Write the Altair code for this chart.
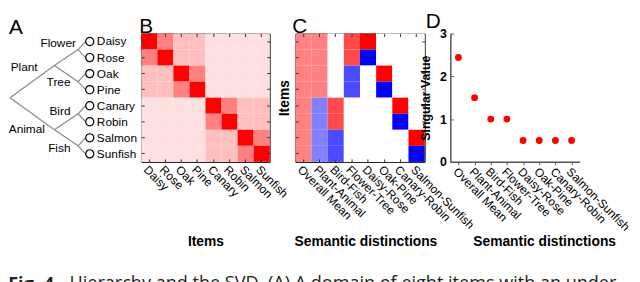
import altair as alt
import pandas as pd

# ---------------- data ----------------
items = ["Daisy", "Rose", "Oak", "Pine", "Canary", "Robin", "Salmon", "Sunfish"]
distinctions = ["Overall Mean", "Plant-Animal", "Bird-Fish", "Flower-Tree",
                "Daisy-Rose", "Oak-Pine", "Canary-Robin", "Salmon-Sunfish"]

# Panel A: hierarchy (depth level and row of every node)
node_names = ["root", "Plant", "Animal", "Flower", "Tree", "Bird", "Fish"] + items
node_depth = [0, 1, 1, 2, 2, 2, 2, 3, 3, 3, 3, 3, 3, 3, 3]
node_row = [3.5, 1.5, 5.5, 0.5, 2.5, 4.5, 6.5, 0, 1, 2, 3, 4, 5, 6, 7]
edge_parent = ["root", "root", "Plant", "Plant", "Animal", "Animal",
               "Flower", "Flower", "Tree", "Tree", "Bird", "Bird", "Fish", "Fish"]
edge_child = ["Plant", "Animal", "Flower", "Tree", "Bird", "Fish",
              "Daisy", "Rose", "Oak", "Pine", "Canary", "Robin", "Salmon", "Sunfish"]

# Panel B: item similarity matrix
similarity = [
    [1.00, 0.50, 0.25, 0.25, 0.12, 0.12, 0.12, 0.12],
    [0.50, 1.00, 0.25, 0.25, 0.12, 0.12, 0.12, 0.12],
    [0.25, 0.25, 1.00, 0.50, 0.12, 0.12, 0.12, 0.12],
    [0.25, 0.25, 0.50, 1.00, 0.12, 0.12, 0.12, 0.12],
    [0.12, 0.12, 0.12, 0.12, 1.00, 0.50, 0.25, 0.25],
    [0.12, 0.12, 0.12, 0.12, 0.50, 1.00, 0.25, 0.25],
    [0.12, 0.12, 0.12, 0.12, 0.25, 0.25, 1.00, 0.50],
    [0.12, 0.12, 0.12, 0.12, 0.25, 0.25, 0.50, 1.00],
]

# Panel C: item modes (rows = items, cols = distinctions)
modes = [
    [0.35, 0.35, 0.00, 0.50, 0.71, 0.00, 0.00, 0.00],
    [0.35, 0.35, 0.00, 0.50, -0.71, 0.00, 0.00, 0.00],
    [0.35, 0.35, 0.00, -0.50, 0.00, 0.71, 0.00, 0.00],
    [0.35, 0.35, 0.00, -0.50, 0.00, -0.71, 0.00, 0.00],
    [0.35, -0.35, 0.50, 0.00, 0.00, 0.00, 0.71, 0.00],
    [0.35, -0.35, 0.50, 0.00, 0.00, 0.00, -0.71, 0.00],
    [0.35, -0.35, -0.50, 0.00, 0.00, 0.00, 0.00, 0.71],
    [0.35, -0.35, -0.50, 0.00, 0.00, 0.00, 0.00, -0.71],
]

# Panel D: singular values
singular_values = [2.44, 1.5, 1.0, 1.0, 0.5, 0.5, 0.5, 0.5]

caption_bold = "Fig. 4."
caption_text = "Hierarchy and the SVD. (A) A domain of eight items with an under-"

# ---------------- styles ----------------
FONT = "Liberation Sans"
H = 130
CAP = 18.3


def panel_title(letter, dx):
    return alt.TitleParams(letter, anchor="start", frame="group", fontSize=21,
                           fontWeight="normal", font=FONT, color="black",
                           offset=-4, dx=dx)


# ---------------- panel A ----------------
nodes = pd.DataFrame({"name": node_names, "depth": node_depth, "row": node_row})
pos = nodes.set_index("name")
edges = pd.DataFrame({
    "x": [pos.loc[p, "depth"] for p in edge_parent],
    "y": [pos.loc[p, "row"] for p in edge_parent],
    "x2": [pos.loc[c, "depth"] for c in edge_child],
    "y2": [pos.loc[c, "row"] for c in edge_child],
})
depth_scale = alt.Scale(domain=[0, 1, 2, 3], range=[1, 46, 70, 77.5])
row_scale = alt.Scale(domain=[-0.5, 7.5], reverse=True, nice=False, zero=False)

ax = alt.X("depth:Q", scale=depth_scale, axis=None)
ay = alt.Y("row:Q", scale=row_scale, axis=None)

a_rules = alt.Chart(edges).mark_rule(color="#8a8a8a", strokeWidth=1.2).encode(
    x=alt.X("x:Q", scale=depth_scale, axis=None),
    y=alt.Y("y:Q", scale=row_scale, axis=None),
    x2="x2:Q", y2="y2:Q")
leaves = alt.Chart(nodes).transform_filter(alt.datum.depth == 3)
a_circles = leaves.mark_point(shape="circle", filled=False, size=68, color="black",
                              strokeWidth=1.2, opacity=1, xOffset=4.3).encode(x=ax, y=ay)
a_leaf_text = leaves.mark_text(align="left", baseline="middle", dx=11.5, fontSize=12,
                               font=FONT, color="black").encode(x=ax, y=ay, text="name:N")

label_offsets = {"Flower": (-2.2, -7), "Tree": (-7.7, 0), "Bird": (-7.7, -3),
                 "Fish": (-7.7, 2.5), "Plant": (-17, 1.5), "Animal": (-9.6, -1)}
a_layers = [a_rules, a_circles, a_leaf_text]
for nm, (ddx, ddy) in label_offsets.items():
    a_layers.append(
        alt.Chart(nodes).transform_filter(alt.datum.name == nm)
        .mark_text(align="right", baseline="middle", dx=ddx, dy=ddy, fontSize=12,
                   font=FONT, color="black")
        .encode(x=ax, y=ay, text="name:N"))

A = alt.layer(*a_layers).properties(
    width=108, height=H, title=panel_title("A", 0),
    view=alt.ViewBackground(stroke="transparent"))


# ---------------- shared axis helpers ----------------
def bottom_axis(title, title_x=None):
    kw = dict(orient="bottom", offset=-3, tickSize=3, domain=False, labelAngle=45,
              labelAlign="left", labelBaseline="top", labelPadding=2, labelFontSize=12,
              labelOverlap=False, title=title, titleY=84, titleBaseline="middle",
              titleFontWeight="bold", titleFontSize=14)
    if title_x is not None:
        kw["titleX"] = title_x
    return alt.Axis(**kw)


def inner_axis(orient):
    return alt.Axis(orient=orient, offset=-3, tickSize=3, domain=False, labels=False,
                    title=None)


# ---------------- panel B ----------------
b_df = pd.DataFrame([{"row": items[i], "col": items[j], "sim": similarity[i][j]}
                     for i in range(8) for j in range(8)])
b_heat = alt.Chart(b_df).mark_rect().encode(
    x=alt.X("col:N", sort=items, axis=bottom_axis("Items")),
    y=alt.Y("row:N", sort=items, axis=inner_axis("left")),
    color=alt.Color("sim:Q", scale=alt.Scale(domain=[0, 1], range=["#ffffff", "#ff0000"],
                                             interpolate="rgb"),
                    legend=None))
b_ticks = alt.Chart(b_df).mark_rect(opacity=0).encode(
    x=alt.X("col:N", sort=items, axis=inner_axis("top")),
    y=alt.Y("row:N", sort=items, axis=inner_axis("right")))
B = alt.layer(b_heat, b_ticks).resolve_axis(x="independent", y="independent").properties(
    width=130, height=H, title=panel_title("B", -2),
    view=alt.ViewBackground(stroke="black", strokeWidth=1))

# ---------------- panel C ----------------
c_df = pd.DataFrame([{"row": items[i], "col": distinctions[j], "mode": modes[i][j]}
                     for i in range(8) for j in range(8)])
c_heat = alt.Chart(c_df).mark_rect().encode(
    x=alt.X("col:N", sort=distinctions, axis=bottom_axis("Semantic distinctions", 71)),
    y=alt.Y("row:N", sort=items,
            axis=alt.Axis(orient="left", offset=-3, tickSize=3, domain=False, labels=False,
                          title="Items", titleX=-14, titleY=65, titleAngle=270,
                          titleAlign="center", titleBaseline="middle",
                          titleFontWeight="bold", titleFontSize=14)),
    color=alt.Color("mode:Q", scale=alt.Scale(domain=[-0.71, 0, 0.71],
                                              range=["#0000ff", "#ffffff", "#ff0000"],
                                              interpolate="rgb"),
                    legend=None))
c_ticks = alt.Chart(c_df).mark_rect(opacity=0).encode(
    x=alt.X("col:N", sort=distinctions, axis=inner_axis("top")),
    y=alt.Y("row:N", sort=items, axis=inner_axis("right")))
C = alt.layer(c_heat, c_ticks).resolve_axis(x="independent", y="independent").properties(
    width=131, height=H, title=panel_title("C", -3),
    view=alt.ViewBackground(stroke="black", strokeWidth=1))

# ---------------- panel D ----------------
d_df = pd.DataFrame({"distinction": distinctions, "sv": singular_values})
sv_scale = alt.Scale(domain=[0, 3], nice=False, zero=True)
d_pts = alt.Chart(d_df).mark_circle(size=48, color="#ff0000", opacity=1).encode(
    x=alt.X("distinction:N", sort=distinctions, scale=alt.Scale(padding=0.5),
            axis=alt.Axis(domain=True, domainColor="#555555", domainWidth=1.5,
                          tickSize=3, tickColor="#555555", labelAngle=45,
                          labelAlign="left", labelBaseline="top", labelPadding=1,
                          labelFontSize=12, labelOverlap=False,
                          title="Semantic distinctions", titleX=95, titleY=81,
                          titleBaseline="middle", titleFontWeight="bold",
                          titleFontSize=14)),
    y=alt.Y("sv:Q", scale=sv_scale,
            axis=alt.Axis(values=[0, 1, 2, 3], domain=True, domainColor="#555555",
                          domainWidth=1.5, ticks=False, labelFontWeight="bold",
                          labelFontSize=12.5, labelPadding=4, title="Singular Value",
                          titleX=-25, titleY=65, titleAngle=270, titleAlign="center",
                          titleBaseline="middle", titleFontWeight="bold",
                          titleFontSize=12.5)))
d_ticks = alt.Chart(d_df).mark_circle(opacity=0).encode(
    y=alt.Y("sv:Q", scale=sv_scale,
            axis=alt.Axis(orient="left", offset=-3, tickSize=3, values=[0, 1, 2, 3],
                          domain=False, labels=False, title=None, tickColor="#555555")))
D = alt.layer(d_pts, d_ticks).resolve_axis(y="independent").properties(
    width=131, height=H, title=panel_title("D", -25),
    view=alt.ViewBackground(stroke="transparent"))

# ---------------- assemble ----------------
panels = alt.hconcat(A, B, C, D, spacing=26, bounds="flush",
                     title=alt.TitleParams(caption_bold, orient="bottom", anchor="start",
                                           fontSize=CAP, fontWeight="bold",
                                           font="Open Sans", color="#222222", offset=27)
                     ).resolve_scale(color="independent")
chart = alt.vconcat(panels, spacing=0,
                    title=alt.TitleParams(caption_text, orient="bottom", anchor="start",
                                          fontSize=CAP, fontWeight="normal",
                                          font="Open Sans", color="#222222",
                                          offset=0, dx=62, dy=-CAP)
                    ).properties(padding=0).configure_axis(
    labelFont=FONT, titleFont=FONT, labelColor="black", titleColor="black",
    grid=False, tickColor="#333333", tickWidth=1
)

chart.save("out.html", embed_options={"renderer": "svg", "actions": False})
